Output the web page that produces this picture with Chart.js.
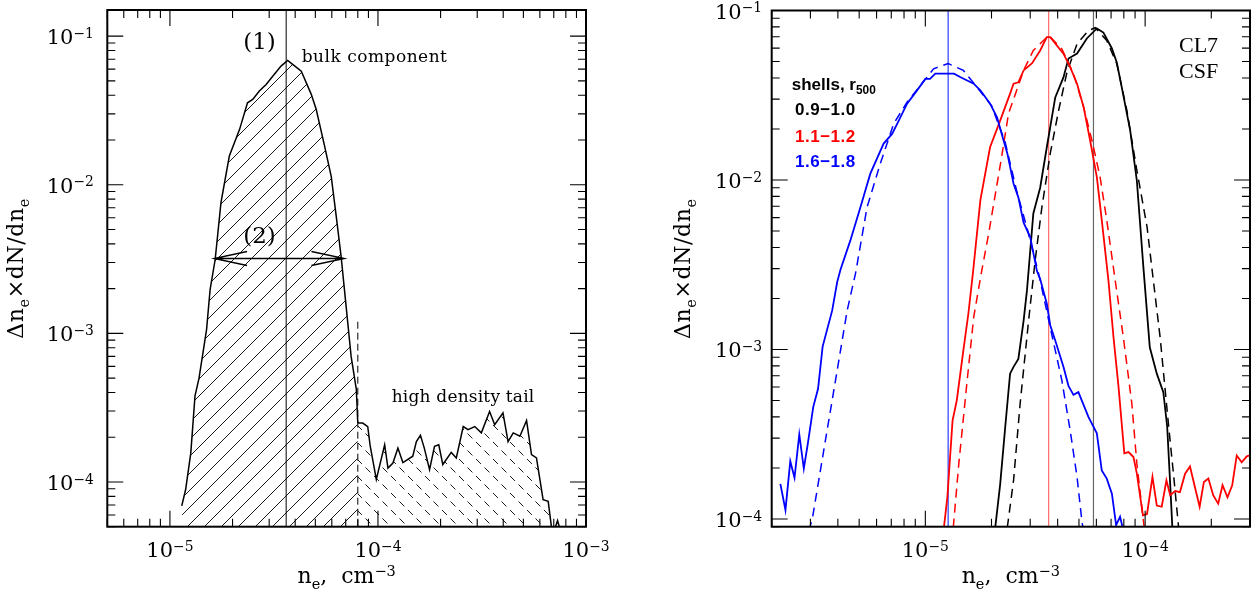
<!doctype html>
<html lang="en">
<head>
<meta charset="utf-8">
<title>Electron density distributions</title>
<style>
  * { margin: 0; padding: 0; }
  body { width: 1256px; height: 597px; background: #fff; position: relative; overflow: hidden; }
  canvas { position: absolute; top: 0; }
  #left { left: 0; }
  #right { left: 628px; }
</style>
</head>
<body>
<canvas id="left" width="628" height="597"></canvas>
<canvas id="right" width="628" height="597"></canvas>
<script src="https://cdn.jsdelivr.net/npm/chart.js@4/dist/chart.umd.min.js"></script>
<script>
// ---- left panel: one distribution, bulk + tail ----
const bulkX = [1.14e-5, 1.19e-5, 1.26e-5, 1.32e-5, 1.38e-5, 1.50e-5, 1.56e-5, 1.65e-5, 1.76e-5, 1.93e-5,
  2.16e-5, 2.36e-5, 2.50e-5, 2.69e-5, 2.90e-5, 3.12e-5, 3.42e-5, 3.68e-5, 3.89e-5, 4.28e-5,
  4.78e-5, 5.05e-5, 5.54e-5, 5.96e-5, 6.30e-5, 6.65e-5, 6.90e-5, 7.43e-5, 7.87e-5, 8.0e-5];
const bulkY = [6.9e-5, 8.9e-5, 1.57e-4, 3.8e-4, 5.0e-4, 1.06e-3, 1.97e-3, 3.14e-3, 7.6e-3, 1.56e-2,
  2.35e-2, 3.56e-2, 3.75e-2, 4.27e-2, 4.73e-2, 5.38e-2, 6.29e-2, 6.87e-2, 6.46e-2, 5.82e-2,
  4.06e-2, 3.21e-2, 1.82e-2, 1.14e-2, 6.15e-3, 3.30e-3, 1.97e-3, 7.0e-4, 4.2e-4, 2.49e-4];
const tailX = [8.0e-5, 8.45e-5, 8.93e-5, 9.18e-5, 9.82e-5, 1.077e-4, 1.117e-4, 1.18e-4, 1.247e-4, 1.318e-4,
  1.47e-4, 1.53e-4, 1.60e-4, 1.67e-4, 1.77e-4, 1.87e-4, 1.96e-4, 2.05e-4, 2.25e-4, 2.38e-4,
  2.57e-4, 2.71e-4, 2.92e-4, 3.14e-4, 3.44e-4, 3.64e-4, 3.99e-4, 4.22e-4, 4.47e-4, 4.81e-4,
  5.18e-4, 5.47e-4, 5.78e-4, 6.22e-4, 6.58e-4, 6.82e-4, 7.0e-4, 7.3e-4, 7.6e-4];
const tailY = [2.49e-4, 2.49e-4, 2.36e-4, 1.74e-4, 1.04e-4, 1.78e-4, 1.24e-4, 1.34e-4, 1.69e-4, 1.35e-4,
  1.49e-4, 1.87e-4, 2.06e-4, 1.69e-4, 1.21e-4, 1.74e-4, 1.78e-4, 1.31e-4, 1.58e-4, 1.45e-4,
  2.36e-4, 2.25e-4, 2.36e-4, 2.14e-4, 2.98e-4, 2.43e-4, 2.92e-4, 1.87e-4, 2.14e-4, 2.03e-4,
  2.59e-4, 1.53e-4, 1.45e-4, 7.6e-5, 7.4e-5, 5.0e-5, 4.6e-5, 5.5e-5, 4.5e-5];
const bulkPeak = 3.62e-5;          // (1)
const tailStart = 8.0e-5;
const tailMarkTop = 1.26e-3;
const widthSpan = [1.63e-5, 6.9e-5]; // (2)
const widthLevel = 3.19e-3;
const leftXTicks = [1e-5, 1e-4, 1e-3];
const leftYTicks = [1e-4, 1e-3, 1e-2, 1e-1];

// ---- right panel: three shells, measured (solid) and fit (dashed) ----
const shellLabels = ['0.9\u22121.0', '1.1\u22121.2', '1.6\u22121.8'];
const blueX = [2.19e-6, 2.31e-6, 2.43e-6, 2.54e-6, 2.67e-6, 2.80e-6, 2.92e-6, 3.09e-6, 3.25e-6, 3.41e-6,
  3.77e-6, 3.97e-6, 4.11e-6, 4.56e-6, 5.07e-6, 5.62e-6, 6.46e-6, 7.06e-6, 7.57e-6, 8.26e-6,
  9.17e-6, 1.00e-5, 1.05e-5, 1.11e-5, 1.26e-5, 1.35e-5, 1.44e-5, 1.55e-5, 1.66e-5, 1.78e-5,
  1.97e-5, 2.12e-5, 2.27e-5, 2.36e-5, 2.52e-5, 2.65e-5, 2.80e-5, 3.0e-5, 3.22e-5, 3.33e-5,
  3.57e-5, 3.70e-5, 3.90e-5, 4.25e-5, 4.48e-5, 4.72e-5, 4.97e-5, 5.52e-5, 6.03e-5, 6.35e-5,
  6.69e-5, 7.06e-5, 7.38e-5, 7.69e-5, 7.92e-5];
const blueY = [1.61e-4, 1.13e-4, 2.19e-4, 1.75e-4, 3.15e-4, 1.98e-4, 2.78e-4, 4.57e-4, 5.86e-4, 1.04e-3,
  1.70e-3, 2.49e-3, 2.95e-3, 4.40e-3, 6.92e-3, 1.09e-2, 1.64e-2, 1.87e-2, 2.24e-2, 2.82e-2,
  3.38e-2, 3.95e-2, 3.95e-2, 4.24e-2, 4.24e-2, 4.24e-2, 4.05e-2, 3.86e-2, 3.70e-2, 3.38e-2,
  2.82e-2, 2.34e-2, 1.71e-2, 1.44e-2, 9.5e-3, 7.9e-3, 5.6e-3, 4.6e-3, 2.9e-3, 2.6e-3,
  1.86e-3, 1.39e-3, 1.13e-3, 7.9e-4, 6.1e-4, 5.4e-4, 5.6e-4, 4.0e-4, 3.2e-4, 1.93e-4,
  1.73e-4, 1.41e-4, 9.2e-5, 1.03e-4, 8.8e-5];
const blueFitX = [2.95e-6, 3.06e-6, 3.45e-6, 3.97e-6, 4.41e-6, 4.81e-6, 5.43e-6, 6.24e-6, 7.18e-6, 8.26e-6,
  9.49e-6, 1.09e-5, 1.27e-5, 1.49e-5, 1.72e-5, 2.0e-5, 2.3e-5, 2.6e-5, 2.95e-5, 3.3e-5,
  3.7e-5, 4.18e-5, 4.56e-5, 4.90e-5, 5.16e-5, 5.25e-5];
const blueFitY = [8.5e-5, 1.0e-4, 2.54e-4, 7.5e-4, 1.70e-3, 2.80e-3, 6.9e-3, 1.25e-2, 2.15e-2, 2.88e-2,
  3.61e-2, 4.53e-2, 4.86e-2, 4.43e-2, 3.52e-2, 2.75e-2, 1.7e-2, 8.7e-3, 4.8e-3, 2.7e-3,
  1.35e-3, 6.56e-4, 3.33e-4, 1.77e-4, 9.6e-5, 8.5e-5];
const redX = [1.21e-5, 1.26e-5, 1.33e-5, 1.39e-5, 1.49e-5, 1.57e-5, 1.65e-5, 1.78e-5, 1.97e-5, 2.19e-5,
  2.43e-5, 2.52e-5, 2.65e-5, 2.80e-5, 3.06e-5, 3.33e-5, 3.57e-5, 3.70e-5, 4.25e-5, 4.56e-5,
  4.90e-5, 5.25e-5, 5.62e-5, 6.03e-5, 6.35e-5, 6.81e-5, 7.18e-5, 7.57e-5, 8.04e-5, 8.40e-5,
  8.85e-5, 9.17e-5, 9.77e-5, 1.02e-4, 1.08e-4, 1.13e-4, 1.19e-4, 1.25e-4, 1.30e-4, 1.37e-4,
  1.44e-4, 1.52e-4, 1.60e-4, 1.77e-4, 1.85e-4, 1.94e-4, 2.04e-4, 2.15e-4, 2.25e-4, 2.37e-4,
  2.49e-4, 2.61e-4, 2.75e-4, 2.90e-4, 3.0e-4];
const redY = [8.5e-5, 1.35e-4, 3.8e-4, 5.0e-4, 9.9e-4, 1.63e-3, 2.9e-3, 7.6e-3, 1.56e-2, 2.24e-2,
  3.23e-2, 3.70e-2, 3.77e-2, 4.43e-2, 4.89e-2, 5.81e-2, 6.97e-2, 6.97e-2, 5.56e-2, 4.63e-2,
  3.70e-2, 2.69e-2, 1.71e-2, 1.04e-2, 5.8e-3, 2.55e-3, 1.18e-3, 6.0e-4, 2.44e-4, 2.48e-4,
  2.32e-4, 1.85e-4, 1.05e-4, 1.07e-4, 1.77e-4, 1.20e-4, 1.18e-4, 1.69e-4, 1.38e-4, 1.46e-4,
  1.44e-4, 1.85e-4, 2.04e-4, 1.18e-4, 1.65e-4, 1.73e-4, 1.38e-4, 1.23e-4, 1.58e-4, 1.34e-4,
  1.58e-4, 2.37e-4, 2.16e-4, 2.34e-4, 2.37e-4];
const redFitX = [1.34e-5, 1.42e-5, 1.55e-5, 1.66e-5, 1.79e-5, 1.94e-5, 2.21e-5, 2.39e-5, 2.80e-5, 3.10e-5,
  3.64e-5, 4.18e-5, 4.72e-5, 5.25e-5, 5.73e-5, 6.24e-5, 6.69e-5, 7.31e-5, 7.96e-5, 8.70e-5,
  9.17e-5, 9.9e-5];
const redFitY = [8.9e-5, 2.12e-4, 6.56e-4, 1.55e-3, 2.74e-3, 4.8e-3, 1.3e-2, 2.46e-2, 4.43e-2, 5.81e-2,
  7.13e-2, 5.94e-2, 4.24e-2, 2.69e-2, 1.71e-2, 1.04e-2, 5.8e-3, 2.55e-3, 1.18e-3, 4.8e-4,
  2.12e-4, 8.9e-5];
const blackX = [2.08e-5, 2.19e-5, 2.31e-5, 2.43e-5, 2.52e-5, 2.65e-5, 2.80e-5, 2.90e-5, 3.10e-5, 3.33e-5,
  3.57e-5, 3.90e-5, 4.25e-5, 4.48e-5, 4.90e-5, 5.43e-5, 6.03e-5, 6.46e-5, 7.06e-5, 7.43e-5,
  7.83e-5, 8.55e-5, 9.17e-5, 9.82e-5, 1.05e-4, 1.13e-4, 1.21e-4, 1.26e-4, 1.30e-4, 1.33e-4];
const blackY = [8.9e-5, 1.6e-4, 3.5e-4, 7.2e-4, 7.9e-4, 8.8e-4, 1.48e-3, 2.23e-3, 6.34e-3, 9.0e-3,
  1.56e-2, 3.07e-2, 4.03e-2, 5.21e-2, 5.57e-2, 6.84e-2, 7.84e-2, 7.41e-2, 5.97e-2, 4.93e-2,
  3.52e-2, 1.96e-2, 9.9e-3, 3.05e-3, 1.03e-3, 7.2e-4, 5.6e-4, 3.5e-4, 1.61e-4, 8.9e-5];
const blackFitX = [2.36e-5, 2.52e-5, 2.70e-5, 2.95e-5, 3.16e-5, 3.39e-5, 3.70e-5, 4.04e-5, 4.41e-5, 4.90e-5,
  5.52e-5, 5.93e-5, 6.69e-5, 7.43e-5, 8.26e-5, 9.17e-5, 1.02e-4, 1.09e-4, 1.17e-4, 1.28e-4,
  1.35e-4, 1.42e-4];
const blackFitY = [8.9e-5, 1.69e-4, 4.8e-4, 1.48e-3, 3.35e-3, 6.9e-3, 1.43e-2, 2.57e-2, 4.33e-2, 6.35e-2,
  7.62e-2, 7.91e-2, 6.65e-2, 4.86e-2, 2.57e-2, 1.14e-2, 5.3e-3, 2.55e-3, 1.18e-3, 3.5e-4,
  1.77e-4, 8.9e-5];
const peaks = [5.82e-5, 3.64e-5, 1.27e-5];   // black, red, blue
const rightXTicks = [1e-5, 1e-4];
const rightYTicks = [1e-4, 1e-3, 1e-2, 1e-1];

const SERIF = '"DejaVu Serif", serif';
const ROMAN = '"Liberation Serif", serif';
const SANS = '"Liberation Sans", Arial, sans-serif';

function pts(xs, ys) {
  return xs.map((x, i) => ({x: x, y: ys[i]}));
}

function vline(x, y0, y1) {
  return [{x: x, y: y0}, {x: x, y: y1}];
}

// hatch tile, 45 degree lines
function hatch(canvasId, rising, dashed) {
  const P = 17;
  const c = document.createElement('canvas');
  c.width = P; c.height = P;
  const g = c.getContext('2d');
  g.strokeStyle = '#000';
  g.lineWidth = 0.9;
  if (dashed) g.setLineDash([7, 5]);
  for (const k of [-1, 0, 1]) {
    g.beginPath();
    if (rising) { g.moveTo(k * P, P); g.lineTo(k * P + P, 0); }
    else { g.moveTo(k * P, 0); g.lineTo(k * P + P, P); }
    g.stroke();
  }
  return document.getElementById(canvasId).getContext('2d').createPattern(c, 'repeat');
}

// text with sub/superscripts: parts = [[text, 'sub'|'sup'|undefined], ...]
function rich(ctx, parts, x, y, o) {
  const fontFor = p => (o.weight || 'normal') + ' ' + (p[1] ? o.size * (o.small || 0.66) : o.size) + 'px ' + (o.family || SERIF);
  ctx.letterSpacing = (o.spacing || 0) + 'px';
  let w = 0;
  for (const p of parts) { ctx.font = fontFor(p); w += ctx.measureText(p[0]).width; }
  let cx = o.align === 'center' ? x - w / 2 : (o.align === 'right' ? x - w : x);
  ctx.fillStyle = o.color || '#000';
  for (const p of parts) {
    ctx.font = fontFor(p);
    const dy = p[1] === 'sub' ? o.size * (o.subDy || 0.28) : (p[1] === 'sup' ? -o.size * 0.3 : 0);
    ctx.fillText(p[0], cx, y + dy);
    cx += ctx.measureText(p[0]).width;
  }
  ctx.letterSpacing = '0px';
}

function logTicks(min, max) {
  const major = [], minor = [];
  for (let d = Math.floor(Math.log10(min)); d <= Math.ceil(Math.log10(max)); d++) {
    for (let k = 1; k <= 9; k++) {
      const v = k * Math.pow(10, d);
      if (v < min * 0.999 || v > max * 1.001) continue;
      (k === 1 ? major : minor).push(v);
    }
  }
  return {major, minor};
}

const expo = v => [['10'], ['\u2212' + Math.round(-Math.log10(v)), 'sup']];

const framePlugin = {
  id: 'frame',
  afterDraw(chart, args, o) {
    const {ctx, chartArea: a, scales: {x, y}} = chart;
    ctx.save();
    ctx.strokeStyle = '#000';
    ctx.lineWidth = 1.1;
    ctx.beginPath();
    const tx = logTicks(x.min, x.max), ty = logTicks(y.min, y.max);
    for (const [list, len] of [[tx.major, 16], [tx.minor, 8]]) {
      for (const v of list) {
        const p = x.getPixelForValue(v);
        ctx.moveTo(p, a.bottom); ctx.lineTo(p, a.bottom - len);
        ctx.moveTo(p, a.top); ctx.lineTo(p, a.top + len);
      }
    }
    for (const [list, len] of [[ty.major, 16], [ty.minor, 8]]) {
      for (const v of list) {
        const p = y.getPixelForValue(v);
        ctx.moveTo(a.left, p); ctx.lineTo(a.left + len, p);
        ctx.moveTo(a.right, p); ctx.lineTo(a.right - len, p);
      }
    }
    ctx.stroke();
    ctx.lineWidth = 2;
    ctx.strokeRect(a.left, a.top, a.right - a.left, a.bottom - a.top);

    // tick labels
    for (const v of o.xTicks) rich(ctx, expo(v), x.getPixelForValue(v), 557, {size: 21, align: 'center'});
    for (const v of o.yTicks) rich(ctx, expo(v), o.yLabelX, y.getPixelForValue(v) + 8, {size: 21});

    // axis titles
    const mid = (a.left + a.right) / 2;
    rich(ctx, [['n'], ['e', 'sub'], [',  cm'], ['\u22123', 'sup']], mid, 583, {size: 22, align: 'center'});
    ctx.save();
    ctx.translate(o.yTitleX, (a.top + a.bottom) / 2);
    ctx.rotate(-Math.PI / 2);
    rich(ctx, [['\u0394n'], ['e', 'sub'], ['\u00d7dN/dn'], ['e', 'sub']], 0, 0, {size: 22, align: 'center', spacing: 0.6});
    ctx.restore();

    // arrow (2)
    if (o.arrow) {
      const ay = y.getPixelForValue(o.arrow.level);
      const ax0 = x.getPixelForValue(o.arrow.span[0]);
      const ax1 = x.getPixelForValue(o.arrow.span[1]);
      ctx.lineWidth = 1.3;
      ctx.beginPath();
      ctx.moveTo(ax0, ay); ctx.lineTo(ax1, ay);
      ctx.moveTo(ax0 + 33, ay - 7); ctx.lineTo(ax0, ay); ctx.lineTo(ax0 + 33, ay + 7);
      ctx.moveTo(ax1 - 33, ay - 7); ctx.lineTo(ax1, ay); ctx.lineTo(ax1 - 33, ay + 7);
      ctx.stroke();
    }

    for (const t of o.texts) rich(ctx, t.parts, t.x, t.y, t);
    ctx.restore();
  }
};

function panel(id, datasets, xr, yr, pad, frame) {
  return new Chart(document.getElementById(id), {
    type: 'line',
    data: {datasets: datasets},
    options: {
      responsive: false,
      animation: false,
      devicePixelRatio: 1,
      events: [],
      layout: {padding: pad},
      elements: {point: {radius: 0}, line: {tension: 0}},
      plugins: {legend: {display: false}, tooltip: {enabled: false}, frame: frame},
      scales: {
        x: {type: 'logarithmic', min: xr[0], max: xr[1], display: false},
        y: {type: 'logarithmic', min: yr[0], max: yr[1], display: false}
      }
    },
    plugins: [framePlugin]
  });
}

const LY = [5e-5, 0.15];
panel('left', [
  {data: pts(bulkX, bulkY), borderColor: '#000', borderWidth: 1.5, fill: 'start',
   backgroundColor: hatch('left', true, false), clip: 0},
  {data: pts(tailX, tailY), borderColor: '#000', borderWidth: 1.5, fill: 'start',
   backgroundColor: hatch('left', false, true), clip: 0},
  {data: vline(bulkPeak, LY[0], LY[1]), borderColor: '#000', borderWidth: 1, clip: 0},
  {data: vline(tailStart, LY[0], tailMarkTop), borderColor: '#000', borderWidth: 1, borderDash: [7, 4], clip: 0}
], [5e-6, 1e-3], LY, {left: 107.3, top: 10, right: 42, bottom: 70.3}, {
  xTicks: leftXTicks, yTicks: leftYTicks, yLabelX: 46.7, yTitleX: 23,
  arrow: {span: widthSpan, level: widthLevel},
  texts: [
    {parts: [['(1)']], x: 259.5, y: 49, size: 23, align: 'center'},
    {parts: [['bulk component']], x: 301.7, y: 62, size: 17, spacing: 0.5},
    {parts: [['(2)']], x: 259.5, y: 243, size: 23, align: 'center'},
    {parts: [['high density tail']], x: 391.7, y: 402, size: 17, spacing: 0.2}
  ]
});

const RY = [9e-5, 0.1];
const dash = [9, 6];
panel('right', [
  {data: pts(blueX, blueY), borderColor: '#0000ff', borderWidth: 1.8, clip: 0},
  {data: pts(blueFitX, blueFitY), borderColor: '#0000ff', borderWidth: 1.5, borderDash: dash, clip: 0},
  {data: pts(redX, redY), borderColor: '#ff0000', borderWidth: 1.8, clip: 0},
  {data: pts(redFitX, redFitY), borderColor: '#ff0000', borderWidth: 1.5, borderDash: dash, clip: 0},
  {data: pts(blackX, blackY), borderColor: '#000', borderWidth: 1.8, clip: 0},
  {data: pts(blackFitX, blackFitY), borderColor: '#000', borderWidth: 1.5, borderDash: dash, clip: 0},
  {data: vline(peaks[0], RY[0], RY[1]), borderColor: '#666', borderWidth: 1.2, clip: 0},
  {data: vline(peaks[1], RY[0], RY[1]), borderColor: '#ff6a6a', borderWidth: 1.2, clip: 0},
  {data: vline(peaks[2], RY[0], RY[1]), borderColor: '#2a3cff', borderWidth: 1.2, clip: 0}
], [2e-6, 3e-4], RY, {left: 143.7, top: 10.5, right: 6, bottom: 70.3}, {
  xTicks: rightXTicks, yTicks: rightYTicks, yLabelX: 87, yTitleX: 62,
  texts: [
    {parts: [['shells, r'], ['500', 'sub']], x: 163.7, y: 90, size: 17, weight: 'bold', family: SANS, small: 0.7, subDy: 0.22},
    {parts: [[shellLabels[0]]], x: 167, y: 115, size: 17, weight: 'bold', family: SANS, color: '#000', spacing: 0.5},
    {parts: [[shellLabels[1]]], x: 167, y: 141.5, size: 17, weight: 'bold', family: SANS, color: '#ff0000', spacing: 0.5},
    {parts: [[shellLabels[2]]], x: 167, y: 167, size: 17, weight: 'bold', family: SANS, color: '#0000ff', spacing: 0.5},
    {parts: [['CL7']], x: 551, y: 52, size: 22, family: ROMAN},
    {parts: [['CSF']], x: 551, y: 78, size: 22, family: ROMAN}
  ]
});
</script>
</body>
</html>
